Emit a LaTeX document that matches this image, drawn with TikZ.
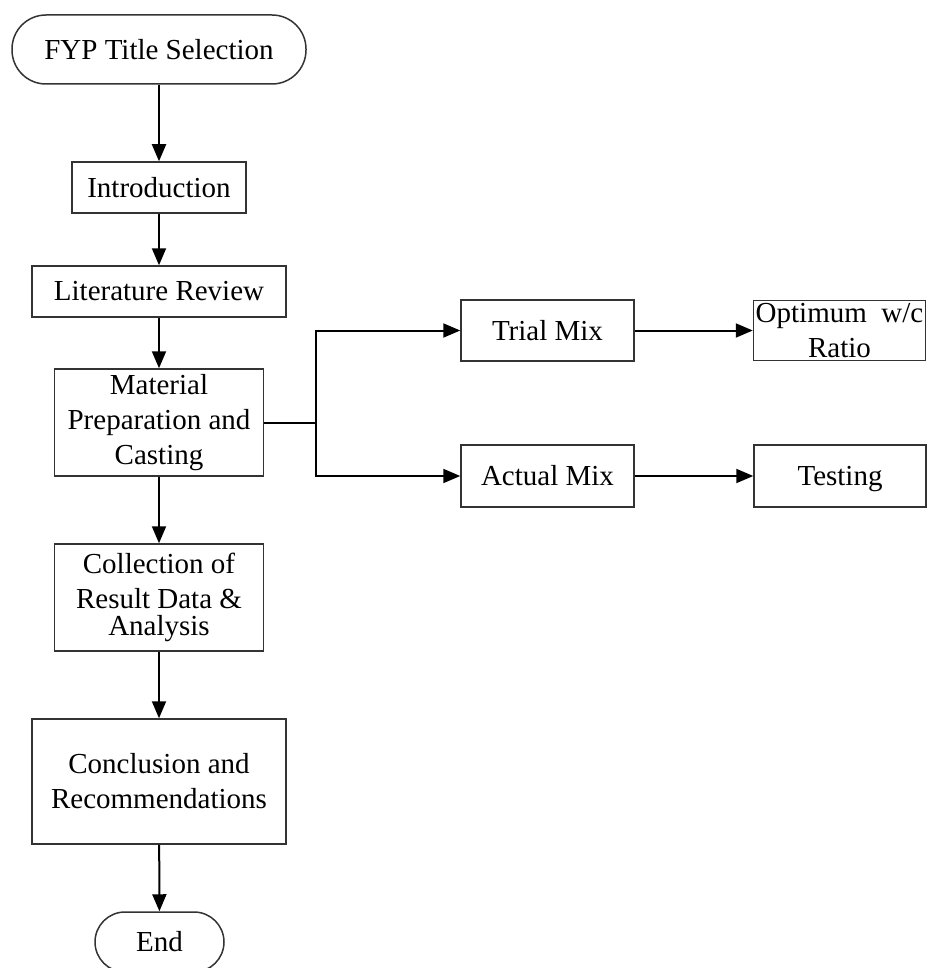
\documentclass[tikz,border=0pt]{standalone}
\usepackage{fontspec}
\setmainfont{Liberation Serif}
\usetikzlibrary{arrows.meta}
\begin{document}
\begin{tikzpicture}[x=1pt,y=-1pt,
  box/.style={draw=black!80,line width=1.5pt,fill=white,align=center,inner sep=0pt,
    font=\fontsize{29}{35}\selectfont},
  term/.style={box,rounded corners=#1},
  conn/.style={line width=2pt,-{Triangle[width=14pt,length=17pt]}},
  plainconn/.style={line width=2pt}]
\useasboundingbox (0,0) rectangle (927,968);
\node[term=34pt,minimum width=294pt,minimum height=69pt] (fyp) at (159,49.5) {FYP Title Selection};
\node[box,minimum width=174pt,minimum height=51pt] (intro) at (159,187.5) {Introduction};
\node[box,minimum width=254pt,minimum height=51pt] (lit) at (159,291.5) {Literature Review};
\node[box,minimum width=209pt,minimum height=107pt] (mat) at (159,422.5) {Material\\Preparation and\\Casting};
\node[box,minimum width=209pt,minimum height=107pt] (coll) at (159,597.5) {Collection of\\Result Data \&\\[-8pt]Analysis};
\node[box,minimum width=254pt,minimum height=125pt] (conc) at (159,781.5) {Conclusion and\\Recommendations};
\node[term=30pt,minimum width=129pt,minimum height=60pt] (end) at (159.5,942) {End};
\node[box,minimum width=173pt,minimum height=61pt] (trial) at (547.5,330.5) {Trial Mix};
\node[box,minimum width=172pt,minimum height=60pt] (opt) at (839.5,330.5) {Optimum~ w/c\\Ratio};
\node[box,minimum width=173pt,minimum height=62pt] (actual) at (547.5,476) {Actual Mix};
\node[box,minimum width=172pt,minimum height=62pt,text depth=0pt] (test) at (840,476) {Testing};
\draw[conn] (fyp) -- (intro);
\draw[conn] (intro) -- (lit);
\draw[conn] (lit) -- (mat);
\draw[conn] (mat) -- (coll);
\draw[conn] (coll) -- (conc);
\draw[conn] (conc) -- (end);
\draw[plainconn] (mat.east) -- ++(52,0) coordinate (j);
\draw[conn] (j) |- (trial.west);
\draw[conn] (j) |- (actual.west);
\draw[conn] (trial) -- (opt);
\draw[conn] (actual) -- (test);
\end{tikzpicture}
\end{document}
